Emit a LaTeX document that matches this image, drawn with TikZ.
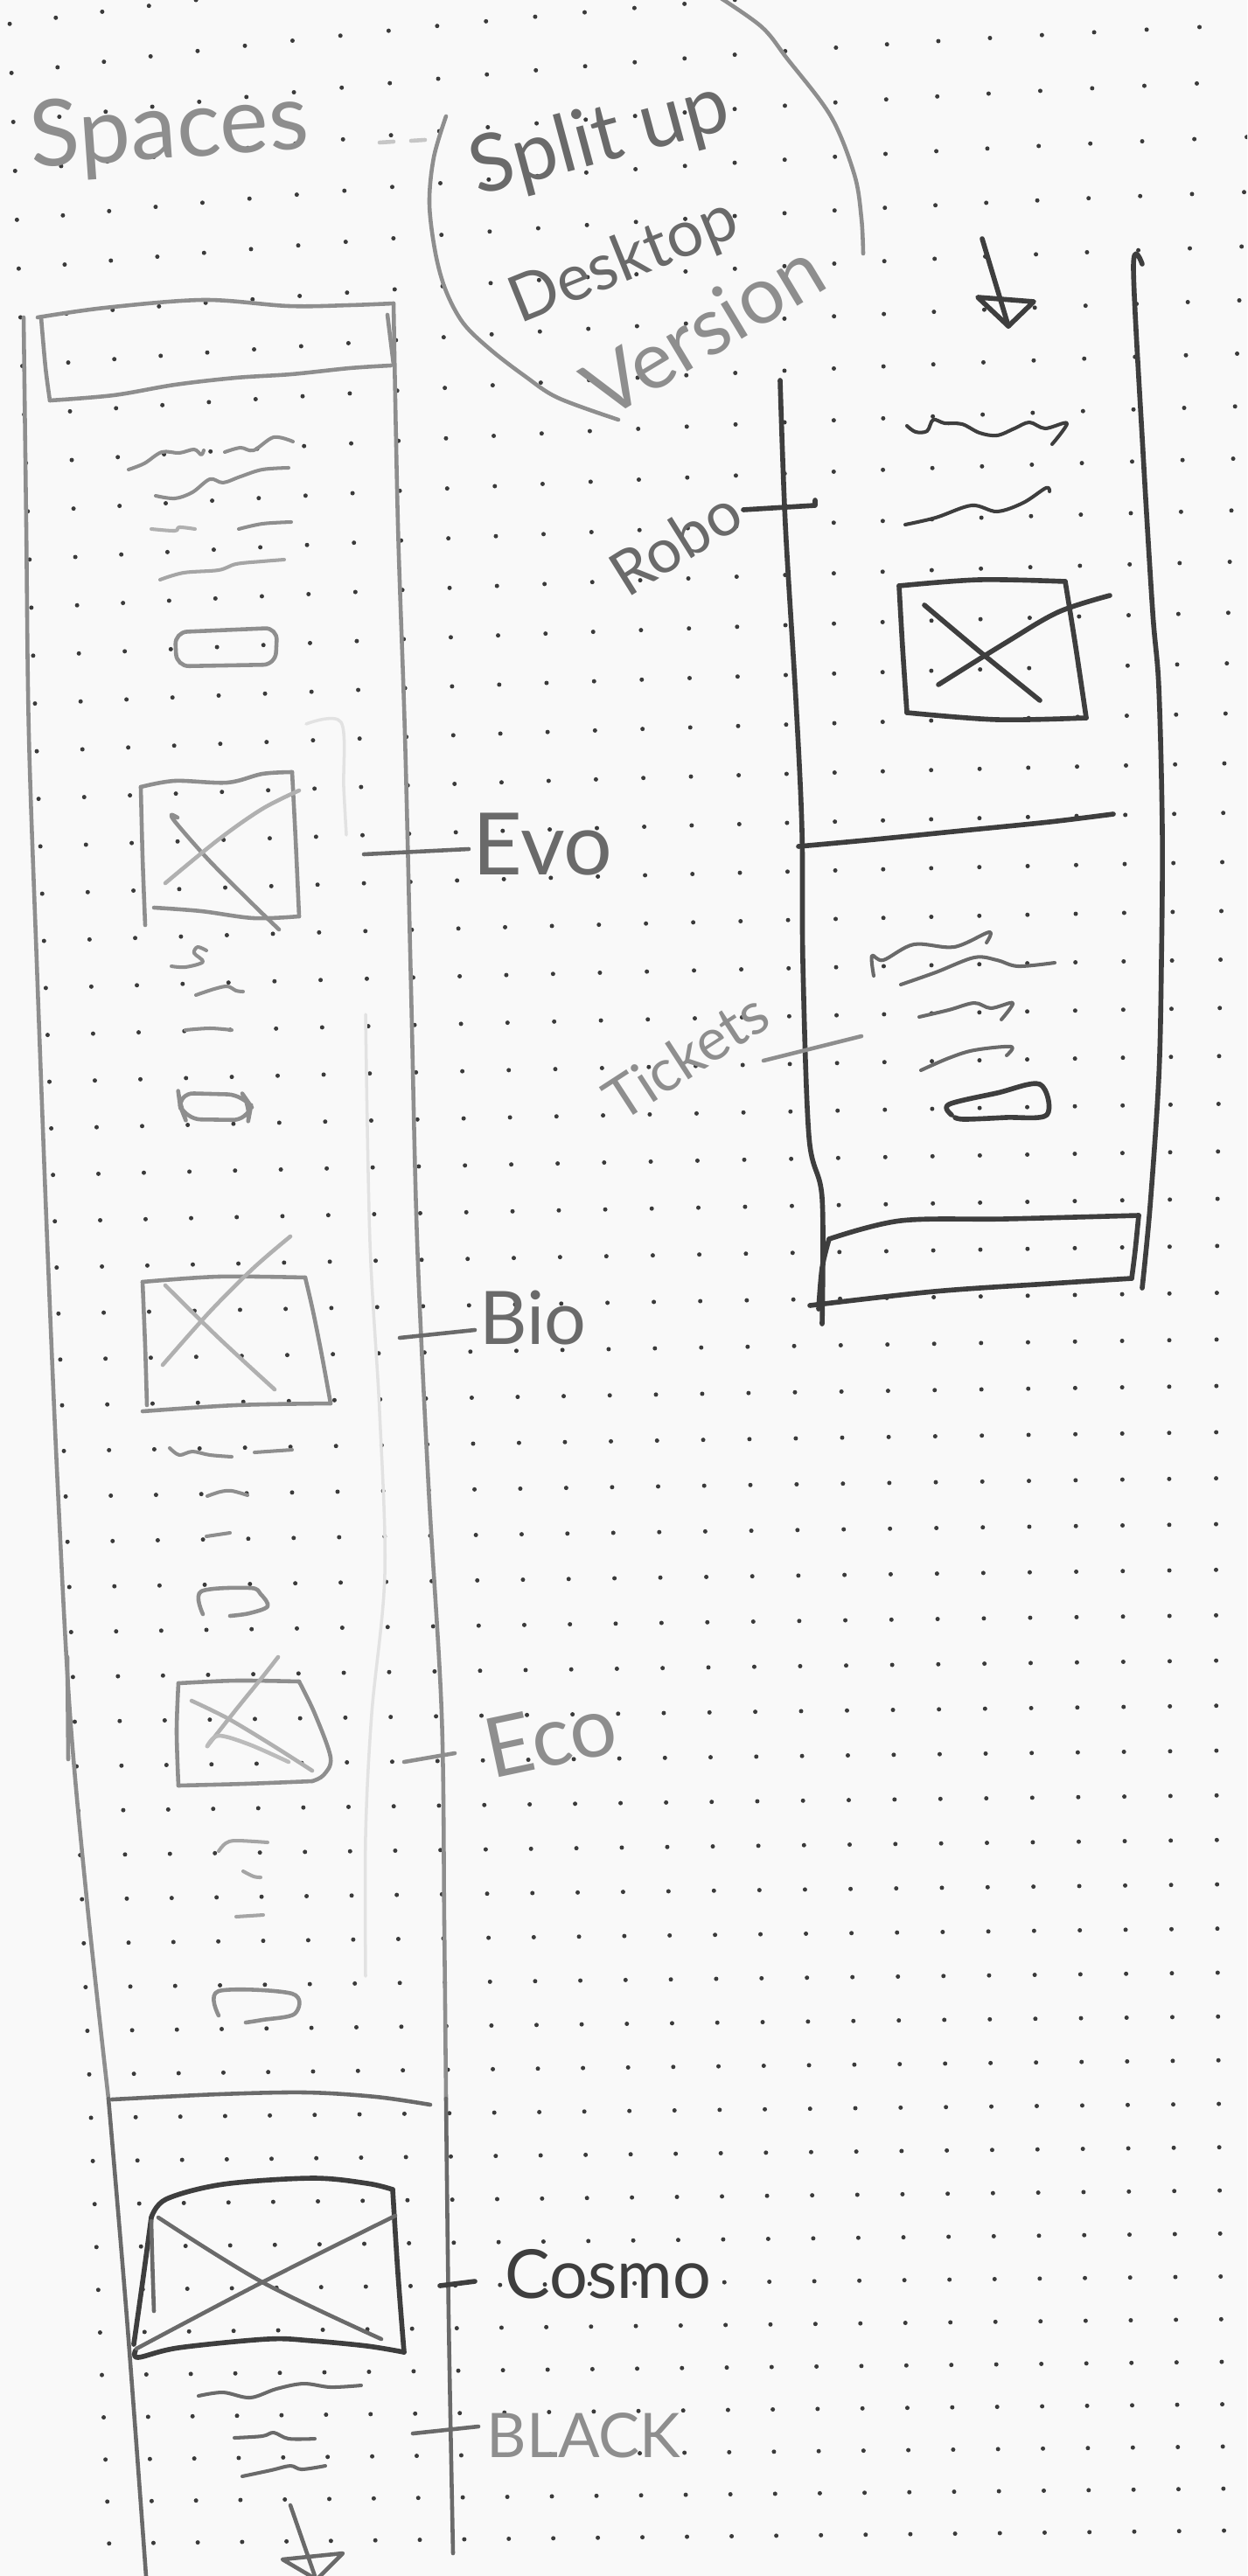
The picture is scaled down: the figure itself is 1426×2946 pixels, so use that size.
\documentclass[tikz,border=0pt]{standalone}
\usepackage{fontspec}
\setmainfont{Lato}
\definecolor{paper}{HTML}{F9F9F9}
\definecolor{dotgrey}{HTML}{3A3A3A}
\definecolor{leadsoft}{HTML}{8E8E8E}
\definecolor{leadmid}{HTML}{6A6A6A}
\definecolor{leaddark}{HTML}{3E3E3E}
\definecolor{leadghost}{HTML}{E2E2E2}
\begin{document}
\begin{tikzpicture}[x=0.01cm, y=-0.01cm,
  stroke/.style={line width=1.3pt, line cap=round, line join=round},
  lineSoft/.style={stroke, draw=leadsoft},
  lineMid/.style={stroke, draw=leadmid},
  lineHard/.style={stroke, draw=leaddark, line width=1.6pt},
  lineGhost/.style={stroke, draw=leadghost, line width=1pt},
  squig/.style={line width=1.15pt, line cap=round, line join=round},
  scrawl/.style={inner sep=0pt, text=leadmid},
  sm/.style={smooth, tension=0.55}
]
\fill[paper] (0,0) rectangle (1426,2946);
\useasboundingbox (0,0) rectangle (1426,2946);

% dotted notebook paper (slightly curved page)
\begin{scope}
\clip (0,0) rectangle (1426,2946);
\foreach \rw in {-2,...,53}{
  \foreach \cl in {-1,...,25}{
    \pgfmathsetmacro{\X}{78+2.03*(\rw-5)+(52.6-0.04*(\rw-5))*(\cl)+0.133*exp(-(\rw-5)/21)*(\cl)*(\cl)}
    \pgfmathsetmacro{\T}{(\X-100)/100}
    \pgfmathsetmacro{\Y}{130+57.03*(\rw)-0.0867*(\rw)*(\rw)+(-1.1-7.5*exp(-(\rw-3)/11))*\T+0.158*exp(-(\rw-5)/11)*\T*\T}
    \fill[dotgrey] (\X,\Y) circle[radius=0.025cm];
  }
}
\end{scope}

% ---------- headings ----------
\node[scrawl, text=leadsoft, font=\fontsize{30}{36}\selectfont, anchor=base west, rotate=4] (lblSpaces) at (36,192) {Spaces};
\draw[lineSoft, draw=leadsoft!50] (434,163) -- (450,162);
\draw[lineSoft, draw=leadsoft!50] (470,161) -- (486,160);

% circled note
\draw[lineSoft] plot[sm] coordinates {(510,133) (496,180) (491,233) (498,290) (510,333) (530,370) (561,400) (600,430) (638,455) (707,480)};
\draw[lineSoft] plot[sm] coordinates {(815,-8) (870,30) (900,67) (950,133) (977,200) (985,250) (987,290)};
\node[scrawl, text=leadmid, font=\fontsize{26}{30}\selectfont, rotate=15] (lblSplit) at (686,160) {Split up};
\node[scrawl, text=leadmid, font=\fontsize{21}{26}\selectfont, rotate=22] (lblDesktop) at (714,300) {Desktop};
\node[scrawl, text=leadsoft, font=\fontsize{26}{30}\selectfont, rotate=31] (lblVersion) at (804,376) {Version};

% ---------- long mobile column ----------
\draw[lineSoft] plot[sm] coordinates {(27,363) (30,600) (33,840) (42,1100) (54,1420) (66,1700) (80,1960) (100,2180) (124,2400)};
\draw[lineMid] plot[sm] coordinates {(124,2400) (145,2650) (167,2946)};
\draw[lineSoft] (77,1895) -- (78,2012);
\draw[lineSoft] plot[sm] coordinates {(450,347) (455,600) (463,840) (470,1130) (477,1420) (490,1700) (505,1960) (508,2200) (510,2400)};
\draw[lineMid] plot[sm] coordinates {(510,2400) (513,2650) (518,2920)};
% faint guide strokes
\draw[lineGhost] plot[sm] coordinates {(350,828) (390,826) (393,900) (396,955)};
\draw[lineGhost] plot[sm] coordinates {(418,1160) (423,1420) (434,1614) (440,1800) (425,1960) (418,2100) (418,2260)};

% header bar
\draw[lineSoft] plot[sm] coordinates {(43,363) (120,352) (233,343) (330,350) (400,349) (450,347)};
\draw[lineSoft] plot[sm] coordinates {(47,363) (52,420) (57,458)};
\draw[lineSoft] plot[sm] coordinates {(57,458) (130,452) (200,440) (270,432) (333,428) (400,421) (447,418)};
\draw[lineSoft] (443,360) -- (450,417);

% intro copy
\draw[squig, draw=leadsoft] plot[sm] coordinates {(147,537) (165,530) (185,517) (205,518) (222,514) (230,520) (233,515)};
\draw[squig, draw=leadsoft] plot[sm] coordinates {(257,517) (275,512) (290,515) (313,500) (335,505)};
\draw[squig, draw=leadsoft] plot[sm] coordinates {(178,567) (200,570) (220,563) (240,548) (255,552) (275,545) (300,537) (330,535)};
\draw[squig, draw=leadsoft!70] plot[sm] coordinates {(173,605) (200,607) (205,603) (223,605)};
\draw[squig, draw=leadsoft] plot[sm] coordinates {(273,605) (300,599) (333,597)};
\draw[squig, draw=leadsoft!80] plot[sm] coordinates {(183,663) (210,655) (250,652) (270,645) (300,642) (325,640)};
\draw[lineSoft, rounded corners=4] (200,723) -- (317,718) -- (315,760) -- (202,762) -- cycle;

% Evo block
\draw[lineSoft] plot[sm] coordinates {(161,900) (163,980) (166,1058)};
\draw[lineSoft] plot[sm] coordinates {(161,900) (200,893) (260,895) (300,885) (334,883)};
\draw[lineSoft] plot[sm] coordinates {(334,883) (338,960) (342,1048)};
\draw[lineSoft] plot[sm] coordinates {(176,1038) (230,1042) (290,1050) (342,1048)};
\draw[lineSoft] plot[sm] coordinates {(203,935) (196,932) (202,942) (240,985) (290,1035) (319,1063)};
\draw[lineSoft, draw=leadsoft!70] plot[sm] coordinates {(189,1010) (250,960) (300,925) (342,904)};
\draw[squig, draw=leadsoft] plot[sm] coordinates {(236,1087) (226,1083) (222,1090) (232,1100) (212,1106) (196,1105)};
\draw[squig, draw=leadsoft] plot[sm] coordinates {(224,1138) (245,1131) (260,1128) (270,1133) (278,1134)};
\draw[squig, draw=leadsoft] plot[sm] coordinates {(212,1178) (240,1176) (265,1178)};
\draw[lineSoft, rounded corners=5] (204,1250) -- (278,1252) -- (287,1265) -- (284,1281) -- (212,1280) -- (206,1265) -- cycle;
\coordinate (evoA) at (416,977);
\coordinate (evoB) at (536,971);
\draw[lineMid] (evoA) -- (evoB);
\node[scrawl, text=leadmid, font=\fontsize{28}{32}\selectfont, anchor=base west] (lblEvo) at (540,1000) {Evo};

% Bio block
\draw[lineSoft] plot[sm] coordinates {(163,1466) (250,1460) (349,1461)};
\draw[lineSoft] plot[sm] coordinates {(349,1461) (358,1500) (368,1550) (378,1605)};
\draw[lineSoft] plot[sm] coordinates {(163,1614) (270,1607) (378,1605)};
\draw[lineSoft] plot[sm] coordinates {(163,1466) (166,1540) (168,1607)};
\draw[lineSoft, draw=leadsoft!70] plot[sm] coordinates {(189,1470) (250,1530) (314,1589)};
\draw[lineSoft, draw=leadsoft!70] plot[sm] coordinates {(186,1561) (240,1500) (290,1450) (332,1414)};
\draw[squig, draw=leadsoft] plot[sm] coordinates {(194,1656) (205,1664) (220,1660) (240,1664) (265,1666)};
\draw[squig, draw=leadsoft] (291,1661) -- (334,1658);
\draw[squig, draw=leadsoft] plot[sm] coordinates {(237,1711) (252,1706) (265,1705) (283,1710)};
\draw[squig, draw=leadsoft] (236,1757) -- (263,1753);
\draw[lineSoft] plot[sm] coordinates {(232,1846) (230,1820) (286,1816) (298,1823) (306,1837) (285,1845) (263,1848)};
\coordinate (bioA) at (457,1530);
\coordinate (bioB) at (543,1521);
\draw[lineMid] (bioA) -- (bioB);
\node[scrawl, text=leadmid, font=\fontsize{24}{28}\selectfont, anchor=base west] (lblBio) at (548,1537) {Bio};

% Eco block
\draw[lineSoft] plot[sm] coordinates {(204,1925) (270,1922) (342,1923)};
\draw[lineSoft] plot[sm] coordinates {(342,1923) (360,1960) (378,2010) (370,2030) (357,2037)};
\draw[lineSoft] plot[sm] coordinates {(204,2042) (280,2040) (357,2037)};
\draw[lineSoft] plot[sm] coordinates {(204,1925) (202,1980) (204,2042)};
\draw[lineSoft, draw=leadsoft!70] plot[sm] coordinates {(219,1945) (260,1965) (310,1995) (357,2025)};
\draw[lineSoft, draw=leadsoft!70] plot[sm] coordinates {(237,1997) (270,1955) (300,1918) (318,1895)};
\draw[lineSoft, draw=leadsoft!60] plot[sm] coordinates {(237,1997) (250,1985) (285,1995) (330,2015)};
\draw[squig, draw=leadsoft!80] plot[sm] coordinates {(250,2117) (258,2108) (270,2105) (306,2107)};
\draw[squig, draw=leadsoft!80] plot[sm] coordinates {(278,2140) (290,2146) (298,2147)};
\draw[squig, draw=leadsoft!80] (270,2192) -- (301,2190);
\draw[lineSoft] plot[sm] coordinates {(250,2305) (250,2277) (334,2280) (337,2303) (300,2310) (281,2313)};
\coordinate (ecoA) at (462,2015);
\coordinate (ecoB) at (520,2005);
\draw[lineSoft] (ecoA) -- (ecoB);
\node[scrawl, text=leadsoft, font=\fontsize{27}{30}\selectfont, anchor=base west, rotate=12] (lblEco) at (562,2035) {Eco};

% Cosmo section
\draw[lineMid] plot[sm] coordinates {(128,2401) (250,2395) (350,2393) (430,2398) (492,2407)};
\draw[lineHard] plot[sm] coordinates {(173,2536) (190,2515) (255,2498) (357,2491) (420,2497) (449,2504)};
\draw[lineHard] plot[sm] coordinates {(449,2504) (455,2600) (462,2690)};
\draw[lineHard] plot[sm] coordinates {(462,2690) (420,2683) (357,2677) (306,2675) (204,2685) (158,2696) (155,2688)};
\draw[lineHard] plot[sm] coordinates {(173,2536) (163,2610) (153,2681)};
\draw[lineMid] plot[sm] coordinates {(176,2643) (174,2580) (173,2540)};
\draw[lineMid] plot[sm] coordinates {(181,2536) (300,2610) (436,2675)};
\draw[lineMid] plot[sm] coordinates {(156,2686) (300,2610) (452,2534)};
\coordinate (cosA) at (503,2614);
\coordinate (cosB) at (543,2609);
\draw[lineHard] (cosA) -- (cosB);
\node[scrawl, text=leaddark, font=\fontsize{22}{26}\selectfont, anchor=base west] (lblCosmo) at (577,2628) {Cosmo};
\draw[squig, draw=leadmid] plot[sm] coordinates {(227,2740) (255,2736) (286,2742) (316,2732) (347,2726) (378,2730) (413,2728)};
\draw[squig, draw=leadmid] plot[sm] coordinates {(268,2788) (300,2786) (313,2782) (330,2789) (360,2789)};
\draw[squig, draw=leadmid] plot[sm] coordinates {(277,2832) (310,2825) (332,2820) (345,2824) (372,2820)};
\coordinate (blkA) at (472,2783);
\coordinate (blkB) at (547,2775);
\draw[lineMid] (blkA) -- (blkB);
\node[scrawl, text=leadsoft, font=\fontsize{20}{24}\selectfont, anchor=base west] (lblBlack) at (556,2810) {BLACK};
\coordinate (downA) at (332,2865);
\coordinate (downB) at (360,2946);
\draw[lineMid] (downA) -- (downB);
\draw[lineMid] (323,2927) -- (392,2920) -- (362,2950) -- cycle;

% ---------- desktop frame ----------
\coordinate (topA) at (1123,273);
\coordinate (topB) at (1153,373);
\draw[lineHard] (topA) -- (topB);
\draw[lineHard] (1118,340) -- (1182,345) -- (topB) -- cycle;

\draw[lineHard] plot[sm] coordinates {(892,435) (898,600) (910,800) (917,950) (918,1100) (925,1300) (940,1370) (940,1514)};
\draw[lineHard] plot[sm] coordinates {(1306,302) (1296,306) (1307,518) (1318,700) (1325,786) (1329,950) (1328,1100) (1325,1232) (1315,1380) (1306,1473)};
\draw[lineHard] plot[sm] coordinates {(913,968) (1000,960) (1100,950) (1200,940) (1273,931)};

% hero copy
\draw[squig, draw=leaddark] plot[sm] coordinates {(1037,487) (1047,494) (1060,493) (1067,480) (1080,484) (1100,485) (1120,495) (1140,498) (1160,490) (1177,483) (1195,490) (1220,484) (1203,508)};
\draw[squig, draw=leaddark] plot[sm] coordinates {(1035,600) (1070,592) (1111,578) (1140,585) (1170,575) (1196,558) (1200,562)};
% hero image
\draw[lineHard] plot[sm] coordinates {(1028,670) (1120,663) (1218,665)};
\draw[lineHard] plot[sm] coordinates {(1218,665) (1230,740) (1242,821)};
\draw[lineHard] plot[sm] coordinates {(1037,815) (1140,823) (1242,821)};
\draw[lineHard] plot[sm] coordinates {(1028,670) (1032,740) (1037,815)};
\draw[lineHard] plot[sm] coordinates {(1057,692) (1120,745) (1189,801)};
\draw[lineHard] plot[sm] coordinates {(1073,783) (1150,735) (1210,700) (1269,681)};
\coordinate (roboA) at (932,572);
\coordinate (roboB) at (850,583);
\draw[lineHard] (roboB) -- (932,578) -- (roboA);
\node[scrawl, text=leadmid, font=\fontsize{20}{24}\selectfont, rotate=32] (lblRobo) at (772,620) {Robo};

% tickets copy
\draw[squig, draw=leadmid] plot[sm] coordinates {(999,1116) (997,1093) (1010,1098) (1045,1080) (1091,1083) (1131,1066) (1128,1078)};
\draw[squig, draw=leadmid] plot[sm] coordinates {(1030,1126) (1070,1112) (1114,1095) (1140,1098) (1164,1105) (1206,1101)};
\draw[squig, draw=leadmid] plot[sm] coordinates {(1051,1163) (1085,1155) (1114,1147) (1133,1153) (1158,1147) (1145,1166)};
\draw[squig, draw=leadmid] plot[sm] coordinates {(1053,1224) (1085,1210) (1114,1201) (1156,1197) (1151,1207)};
\draw[lineHard] plot[sm] coordinates {(1088,1275) (1085,1263) (1140,1250) (1189,1240) (1197,1275) (1150,1278) (1103,1280) (1092,1278)};
\coordinate (tixA) at (873,1213);
\coordinate (tixB) at (985,1185);
\draw[lineSoft] (tixA) -- (tixB);
\node[scrawl, text=leadsoft, font=\fontsize{19}{22}\selectfont, rotate=33] (lblTickets) at (784,1208) {Tickets};

% footer bar
\draw[lineHard] plot[sm] coordinates {(948,1417) (1030,1396) (1150,1394) (1302,1390)};
\draw[lineHard] plot[sm] coordinates {(1302,1390) (1298,1430) (1294,1462)};
\draw[lineHard] plot[sm] coordinates {(926,1493) (1068,1477) (1200,1468) (1294,1462)};
\draw[lineHard] plot[sm] coordinates {(948,1417) (940,1450) (936,1497)};
\end{tikzpicture}
\end{document}
